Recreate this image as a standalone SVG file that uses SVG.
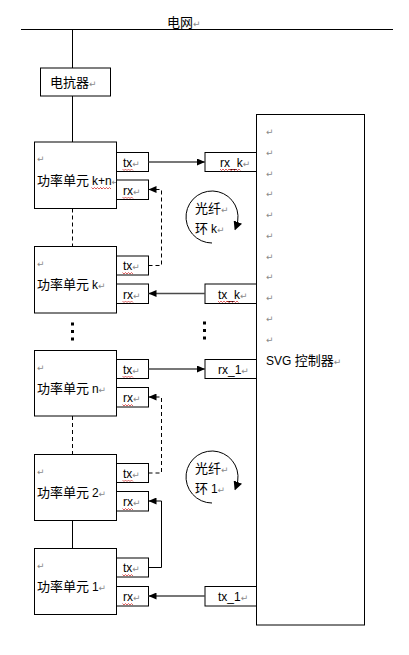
<svg xmlns="http://www.w3.org/2000/svg" xmlns:xlink="http://www.w3.org/1999/xlink" width="409" height="655" viewBox="0 0 409 655">
<style>
  .box{fill:#fff;stroke:#000;stroke-width:1}
  .wire{fill:none;stroke:#000;stroke-width:1}
  .dash{fill:none;stroke:#000;stroke-width:1;stroke-dasharray:4,3}
  .arr{fill:none;stroke:#4a4a4a;stroke-width:1.6}
  .zh{font-family:"Noto Sans CJK SC","Liberation Sans",sans-serif;font-size:13px;fill:#000}
  .la{font-family:"Liberation Sans","Noto Sans CJK SC",sans-serif;font-size:12px;fill:#000}
  .ret{font-family:"DejaVu Sans",sans-serif;font-size:9px;fill:#8a8a8a}
  .dot{fill:#000}
  .sq{fill:none;stroke:#d02020;stroke-width:0.7}
</style>
<defs>
  <marker id="ah" viewBox="0 0 8 7" refX="8" refY="3.5" markerWidth="8" markerHeight="7" markerUnits="userSpaceOnUse" orient="auto">
    <path d="M0,0 L8,3.5 L0,7 z" fill="#000"/>
  </marker>
  <marker id="ahc" viewBox="0 0 8 8" refX="4" refY="4" markerWidth="9" markerHeight="9" markerUnits="userSpaceOnUse" orient="auto">
    <path d="M0,0 L8,4 L0,8 z" fill="#000"/>
  </marker>
  <path id="sq10" class="sq" d="M0,0 l1.5,1.5 l1.5,-1.5 l1.5,1.5 l1.5,-1.5 l1.5,1.5 l1.5,-1.5 l1.5,1.5"/>
</defs>

<!-- grid -->
<g id="grid">
  <line class="wire" x1="21" y1="29.5" x2="393" y2="29.5"/>
  <text class="zh" x="167" y="26.5">电网<tspan class="ret">↵</tspan></text>
</g>

<g id="reactor">
  <rect class="box" x="40.5" y="68" width="70" height="28"/>
  <text class="zh" x="50" y="87">电抗器<tspan class="ret">↵</tspan></text>
</g>

<g id="controller">
  <rect class="box" x="256.5" y="114.5" width="108" height="510.5"/>
  <g class="ret">
    <text x="266" y="135">↵</text>
    <text x="266" y="155.5">↵</text>
    <text x="266" y="176.5">↵</text>
    <text x="266" y="197">↵</text>
    <text x="266" y="218">↵</text>
    <text x="266" y="238.5">↵</text>
    <text x="266" y="259.5">↵</text>
    <text x="266" y="280">↵</text>
    <text x="266" y="301">↵</text>
    <text x="266" y="321.5">↵</text>
    <text x="266" y="342.5">↵</text>
  </g>
  <text class="zh" x="266" y="365"><tspan class="la">SVG </tspan>控制器<tspan class="ret">↵</tspan></text>
</g>

<!-- power units -->
<g id="unit-kn">
  <rect class="box" x="34.5" y="142" width="82" height="66.5"/>
  <text class="ret" x="37" y="162">↵</text>
  <text class="zh" x="37" y="185">功率单元 <tspan class="la">k+n</tspan><tspan class="ret">↵</tspan></text>
  <rect class="box" x="116.5" y="152.5" width="32" height="19"/>
  <text class="la" x="123" y="166.5">tx<tspan class="ret">↵</tspan></text>
  <rect class="box" x="116.5" y="180" width="32" height="19.5"/>
  <text class="la" x="123" y="194.5">rx<tspan class="ret">↵</tspan></text>
</g>

<g id="unit-k">
  <rect class="box" x="34.5" y="246.5" width="82" height="66.5"/>
  <text class="ret" x="37" y="266.5">↵</text>
  <text class="zh" x="37" y="288.5">功率单元 <tspan class="la">k</tspan><tspan class="ret">↵</tspan></text>
  <rect class="box" x="116.5" y="256" width="32" height="19"/>
  <text class="la" x="123" y="270">tx<tspan class="ret">↵</tspan></text>
  <rect class="box" x="116.5" y="284" width="32" height="19.5"/>
  <text class="la" x="123" y="298.5">rx<tspan class="ret">↵</tspan></text>
</g>

<g id="unit-n">
  <rect class="box" x="34.5" y="350.5" width="82" height="65.5"/>
  <text class="ret" x="37" y="370.5">↵</text>
  <text class="zh" x="37" y="392.5">功率单元 <tspan class="la">n</tspan><tspan class="ret">↵</tspan></text>
  <rect class="box" x="116.5" y="359.5" width="32" height="19"/>
  <text class="la" x="123" y="373.5">tx<tspan class="ret">↵</tspan></text>
  <rect class="box" x="116.5" y="387.5" width="32" height="19.5"/>
  <text class="la" x="123" y="402">rx<tspan class="ret">↵</tspan></text>
</g>

<g id="unit-2">
  <rect class="box" x="34.5" y="454.5" width="82" height="66"/>
  <text class="ret" x="37" y="474.5">↵</text>
  <text class="zh" x="37" y="496.5">功率单元 <tspan class="la">2</tspan><tspan class="ret">↵</tspan></text>
  <rect class="box" x="116.5" y="463.5" width="32" height="19"/>
  <text class="la" x="123" y="477.5">tx<tspan class="ret">↵</tspan></text>
  <rect class="box" x="116.5" y="491.5" width="32" height="19.5"/>
  <text class="la" x="123" y="506">rx<tspan class="ret">↵</tspan></text>
</g>

<g id="unit-1">
  <rect class="box" x="34.5" y="548.5" width="82" height="66"/>
  <text class="ret" x="37" y="568.5">↵</text>
  <text class="zh" x="37" y="590.5">功率单元 <tspan class="la">1</tspan><tspan class="ret">↵</tspan></text>
  <rect class="box" x="116.5" y="558" width="32" height="19"/>
  <text class="la" x="123" y="572">tx<tspan class="ret">↵</tspan></text>
  <rect class="box" x="116.5" y="586.5" width="32" height="19.5"/>
  <text class="la" x="123" y="601">rx<tspan class="ret">↵</tspan></text>
</g>

<!-- controller ports -->
<g id="port-rx-k">
  <rect class="box" x="205" y="152.5" width="51.5" height="19"/>
  <text class="la" x="220" y="166.5">rx_k<tspan class="ret">↵</tspan></text>
</g>
<g id="port-tx-k">
  <rect class="box" x="205" y="284" width="51.5" height="19.5"/>
  <text class="la" x="218" y="298.5">tx_k<tspan class="ret">↵</tspan></text>
</g>
<g id="port-rx-1">
  <rect class="box" x="205" y="359.5" width="51.5" height="19"/>
  <text class="la" x="218" y="373.5">rx_1<tspan class="ret">↵</tspan></text>
</g>
<g id="port-tx-1">
  <rect class="box" x="205" y="586.5" width="51.5" height="19.5"/>
  <text class="la" x="218" y="601">tx_1<tspan class="ret">↵</tspan></text>
</g>

<!-- fibre ring labels -->
<g id="ring-k">
  <path class="wire" d="M212,243 A26,26 0 1 1 236.3,226.3" marker-end="url(#ahc)"/>
  <text class="zh" x="195" y="213">光纤<tspan class="ret">↵</tspan></text>
  <text class="zh" x="195" y="232.5">环 <tspan class="la">k</tspan><tspan class="ret">↵</tspan></text>
</g>
<g id="ring-1">
  <path class="wire" d="M212,503 A26,26 0 1 1 236.3,486.3" marker-end="url(#ahc)"/>
  <text class="zh" x="195" y="473">光纤<tspan class="ret">↵</tspan></text>
  <text class="zh" x="195" y="492.5">环 <tspan class="la">1</tspan><tspan class="ret">↵</tspan></text>
</g>

<!-- connectors -->
<g id="connectors">
  <line class="wire" x1="72.5" y1="29.5" x2="72.5" y2="68"/>
  <line class="wire" x1="72.5" y1="96" x2="72.5" y2="142"/>
  <line class="dash" x1="72.5" y1="208.5" x2="72.5" y2="246.5"/>
  <line class="dash" x1="72.5" y1="416" x2="72.5" y2="454.5"/>
  <line class="wire" x1="72.5" y1="520.5" x2="72.5" y2="548.5"/>

  <line class="arr" x1="148.5" y1="162" x2="205" y2="162" marker-end="url(#ah)"/>
  <line class="arr" x1="205" y1="293.5" x2="148.5" y2="293.5" marker-end="url(#ah)"/>
  <line class="arr" x1="148.5" y1="369" x2="205" y2="369" marker-end="url(#ah)"/>
  <line class="arr" x1="205" y1="596" x2="148.5" y2="596" marker-end="url(#ah)"/>

  <path class="dash" d="M148.5,265.5 H161.5 V189.5 H148.5" marker-end="url(#ah)"/>
  <path class="dash" d="M148.5,473 H161.5 V397 H148.5" marker-end="url(#ah)"/>
  <path class="wire" d="M148.5,567.5 H161.5 V501 H148.5" marker-end="url(#ah)"/>
</g>

<!-- ellipsis dots -->
<g id="ellipsis">
  <rect class="dot" x="71" y="322.5" width="3" height="3"/>
  <rect class="dot" x="71" y="330" width="3" height="3"/>
  <rect class="dot" x="71" y="337.5" width="3" height="3"/>
  <rect class="dot" x="203" y="321.5" width="3" height="3"/>
  <rect class="dot" x="203" y="329" width="3" height="3"/>
  <rect class="dot" x="203" y="336.5" width="3" height="3"/>
</g>

<!-- spell-check underlines -->
<g id="squiggles">
  <use xlink:href="#sq10" x="122.5" y="169"/>
  <use xlink:href="#sq10" x="122.5" y="197"/>
  <use xlink:href="#sq10" x="122.5" y="272.5"/>
  <use xlink:href="#sq10" x="122.5" y="301"/>
  <use xlink:href="#sq10" x="122.5" y="376"/>
  <use xlink:href="#sq10" x="122.5" y="404.5"/>
  <use xlink:href="#sq10" x="122.5" y="480"/>
  <use xlink:href="#sq10" x="122.5" y="508.5"/>
  <use xlink:href="#sq10" x="122.5" y="574.5"/>
  <use xlink:href="#sq10" x="122.5" y="603.5"/>
  <use xlink:href="#sq10" x="91.5" y="187.5"/>
  <use xlink:href="#sq10" x="100.5" y="187.5"/>
  <use xlink:href="#sq10" x="220" y="169"/>
  <use xlink:href="#sq10" x="230" y="169"/>
  <use xlink:href="#sq10" x="218" y="301"/>
  <use xlink:href="#sq10" x="228" y="301"/>
</g>
</svg>
